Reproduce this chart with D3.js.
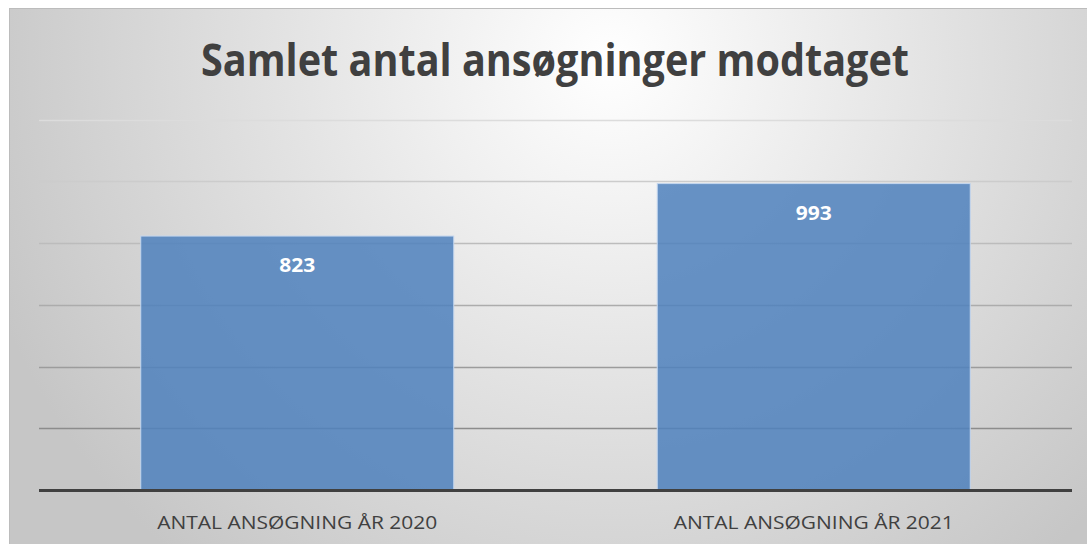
<!DOCTYPE html>
<html>
<head>
<meta charset="utf-8">
<script src="https://cdn.jsdelivr.net/npm/d3@7"></script>
<style>
  body { margin: 0; background: #fff; }
</style>
</head>
<body>
<div id="chart"></div>
<script>
const categories = ["ANTAL ANSØGNING ÅR 2020", "ANTAL ANSØGNING ÅR 2021"];
const values = [823, 993];
const gridTicks = [200, 400, 600, 800, 1000, 1200];
const chartTitle = "Samlet antal ansøgninger modtaget";

const W = 1087, H = 544;
const margin = { top: 58, right: 15, bottom: 54, left: 39 };

const svg = d3.select("#chart")
    .append("svg")
    .attr("width", W)
    .attr("height", H);

// Background with soft radial gradient
const defs = svg.append("defs");
const bg = defs.append("radialGradient")
    .attr("id", "bg")
    .attr("gradientUnits", "userSpaceOnUse")
    .attr("cx", 610).attr("cy", 60).attr("r", 660);
bg.append("stop").attr("offset", "0%").attr("stop-color", "#ffffff");
bg.append("stop").attr("offset", "100%").attr("stop-color", "#c6c6c6");

svg.append("rect")
    .attr("x", 9.5).attr("y", 8.5)
    .attr("width", W).attr("height", H)
    .attr("fill", "url(#bg)")
    .attr("stroke", "#bcbcbc")
    .attr("stroke-width", 1);

const x = d3.scaleBand()
    .domain(categories)
    .range([margin.left, W - margin.right])
    .paddingInner(0.394)
    .paddingOuter(0.197);

const y = d3.scaleLinear()
    .domain([0, 1400])
    .range([H - margin.bottom, margin.top]);

// gridlines get darker towards the axis
const gridColor = d3.scaleLinear()
    .domain([200, 1200])
    .range(["#8c8c8c", "#dcdcdc"]);

svg.append("g")
    .selectAll("line")
    .data(gridTicks)
    .join("line")
    .attr("x1", margin.left)
    .attr("x2", W - margin.right)
    .attr("y1", d => Math.round(y(d)) + 0.5)
    .attr("y2", d => Math.round(y(d)) + 0.5)
    .attr("stroke", d => gridColor(d))
    .attr("stroke-width", 1.5);

// Bars
svg.append("g")
    .selectAll("rect")
    .data(values)
    .join("rect")
    .attr("x", (d, i) => x(categories[i]))
    .attr("y", d => y(d))
    .attr("width", x.bandwidth())
    .attr("height", d => y(0) - y(d))
    .attr("fill", "#4f81bd")
    .attr("fill-opacity", 0.86)
    .attr("stroke", "#c4d6ee")
    .attr("stroke-width", 1);

// Value labels
svg.append("g")
    .selectAll("text")
    .data(values)
    .join("text")
    .attr("x", (d, i) => x(categories[i]) + x.bandwidth() / 2)
    .attr("y", d => y(d) + 36)
    .attr("text-anchor", "middle")
    .attr("fill", "#ffffff")
    .attr("font-family", "'Open Sans', sans-serif")
    .attr("font-weight", "bold")
    .attr("font-size", "20px")
    .attr("textLength", 36)
    .attr("lengthAdjust", "spacingAndGlyphs")
    .text(d => d);

// Axis baseline
svg.append("line")
    .attr("x1", margin.left)
    .attr("x2", W - margin.right)
    .attr("y1", y(0) + 0.5)
    .attr("y2", y(0) + 0.5)
    .attr("stroke", "#404040")
    .attr("stroke-width", 3);

// Category labels
svg.append("g")
    .selectAll("text")
    .data(categories)
    .join("text")
    .attr("x", d => x(d) + x.bandwidth() / 2)
    .attr("y", y(0) + 39)
    .attr("text-anchor", "middle")
    .attr("fill", "#404040")
    .attr("font-family", "'Open Sans', sans-serif")
    .attr("font-size", "19px")
    .attr("textLength", 280)
    .attr("lengthAdjust", "spacingAndGlyphs")
    .text(d => d);

// Title
svg.append("text")
    .attr("x", 555)
    .attr("y", 76)
    .attr("text-anchor", "middle")
    .attr("fill", "#404040")
    .attr("font-family", "'Open Sans', sans-serif")
    .attr("font-weight", "bold")
    .attr("font-size", "45px")
    .attr("textLength", 708)
    .attr("lengthAdjust", "spacingAndGlyphs")
    .text(chartTitle);
</script>
</body>
</html>
